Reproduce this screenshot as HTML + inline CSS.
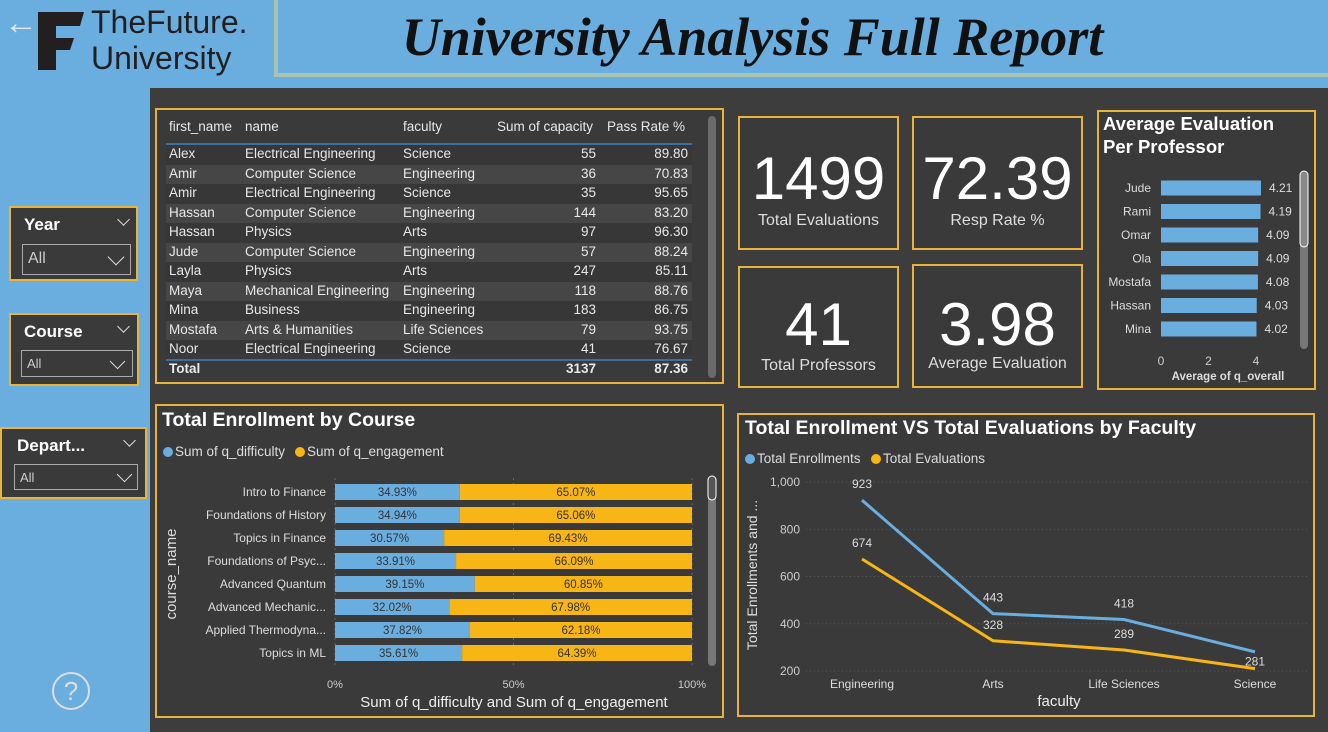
<!DOCTYPE html>
<html><head><meta charset="utf-8">
<style>
*{box-sizing:border-box;margin:0;padding:0}
body{width:1328px;height:732px;overflow:hidden;background:#6aaee0;font-family:"Liberation Sans",sans-serif;position:relative;color:#fff}
.abs{position:absolute}
.panel{position:absolute;background:#3a3a3a;border:2px solid #e9b23a}
.tbl div{position:absolute;font-size:13.5px;color:#e8e8e8;white-space:nowrap}
.kpi .v{position:absolute;width:100%;text-align:center;font-size:60px;color:#fff}
.kpi .l{position:absolute;width:100%;text-align:center;font-size:16px;color:#ddd}
.chev{position:absolute;width:9px;height:9px;border-right:1.5px solid #ddd;border-bottom:1.5px solid #ddd;transform:rotate(45deg)}
svg text{font-family:"Liberation Sans",sans-serif}
</style></head><body>
<div class="abs" style="left:4px;top:6px;font-size:34px;color:#e5e5e5;line-height:34px">←</div>
<svg class="abs" style="left:36px;top:8px" width="50" height="64"><path d="M2 4 L48 4 L44 18 L20 18 L20 30 L38 30 L34 42 L20 42 L20 62 L2 62 Z" fill="#231f20"/></svg>
<div class="abs" style="left:91px;top:4px;font-size:32px;line-height:36px;color:#231f20">TheFuture.<br>University</div>
<div class="abs" style="left:274px;top:0;width:1054px;height:77px;background:#6aaee0;border-bottom:4px solid #a8c3b0;border-left:4px solid #a8c3b0"></div>
<div class="abs" style="left:300px;top:6px;width:905px;text-align:center;font-family:'Liberation Serif',serif;font-style:italic;font-weight:bold;font-size:54px;color:#111">University Analysis Full Report</div>
<div class="abs" style="left:150px;top:88px;width:1178px;height:644px;background:#3d3d3d"></div>

<!-- slicers -->
<div class="panel" style="left:9px;top:206px;width:129px;height:75px">
 <div class="abs" style="left:13px;top:7px;font-size:17px;font-weight:bold">Year</div>
 <div class="chev" style="left:108px;top:7px"></div>
 <div class="abs" style="left:11px;top:36px;width:109px;height:31px;border:1.5px solid #aaa"><span class="abs" style="left:5px;top:5px;font-size:16px;color:#ccc">All</span><div class="chev" style="left:87px;top:6px;width:12px;height:12px"></div></div>
</div>
<div class="panel" style="left:9px;top:313px;width:130px;height:73px">
 <div class="abs" style="left:13px;top:7px;font-size:17px;font-weight:bold">Course</div>
 <div class="chev" style="left:108px;top:7px"></div>
 <div class="abs" style="left:10px;top:35px;width:112px;height:27px;border:1.5px solid #aaa"><span class="abs" style="left:5px;top:5px;font-size:13px;color:#ccc">All</span><div class="chev" style="left:90px;top:5px;width:11px;height:11px"></div></div>
</div>
<div class="panel" style="left:0px;top:427px;width:147px;height:72px">
 <div class="abs" style="left:15px;top:7px;font-size:17px;font-weight:bold">Depart...</div>
 <div class="chev" style="left:123px;top:7px"></div>
 <div class="abs" style="left:12px;top:35px;width:124px;height:26px;border:1.5px solid #aaa"><span class="abs" style="left:5px;top:5px;font-size:13px;color:#ccc">All</span><div class="chev" style="left:104px;top:4px;width:11px;height:11px"></div></div>
</div>
<div class="abs" style="left:52px;top:672px;width:38px;height:38px;border:2px solid #ddd;border-radius:50%;text-align:center;font-size:26px;line-height:34px;color:#ddd">?</div>

<!-- table -->
<div class="panel tbl" style="left:155px;top:108px;width:569px;height:276px" id="tbl">
 <div style="left:12px;top:9px">first_name</div><div style="left:88px;top:9px">name</div><div style="left:246px;top:9px">faculty</div>
 <div style="left:340px;top:9px">Sum of capacity</div><div style="left:450px;top:9px">Pass Rate %</div>
 <div style="left:9px;top:33px;width:526px;height:2px;background:#3c6e9e"></div>
 <div style="left:9px;top:249px;width:526px;height:2px;background:#3c6e9e"></div>
 <div style="left:12px;top:251px;font-weight:bold">Total</div>
 <div style="left:339px;top:251px;width:100px;text-align:right;font-weight:bold">3137</div>
 <div style="left:431px;top:251px;width:100px;text-align:right;font-weight:bold">87.36</div>
 <div style="left:551px;top:6px;width:8px;height:262px;background:#6a6a6a;border-radius:4px"></div>
</div>

<!-- KPIs -->
<div class="panel kpi" style="left:738px;top:116px;width:161px;height:134px"><div class="v" style="top:26px">1499</div><div class="l" style="top:94px">Total Evaluations</div></div>
<div class="panel kpi" style="left:912px;top:116px;width:171px;height:134px"><div class="v" style="top:26px">72.39</div><div class="l" style="top:94px">Resp Rate %</div></div>
<div class="panel kpi" style="left:738px;top:266px;width:161px;height:122px"><div class="v" style="top:22px">41</div><div class="l" style="top:89px">Total Professors</div></div>
<div class="panel kpi" style="left:912px;top:264px;width:171px;height:124px"><div class="v" style="top:24px">3.98</div><div class="l" style="top:89px">Average Evaluation</div></div>

<!-- professor chart -->
<div class="panel" style="left:1097px;top:110px;width:219px;height:280px"></div>
<svg class="abs" id="prof" style="left:0;top:0" width="1328" height="732"></svg>

<!-- bar chart -->
<div class="panel" style="left:155px;top:404px;width:569px;height:314px"></div>
<svg class="abs" id="bars" style="left:0;top:0" width="1328" height="732"></svg>

<!-- line chart -->
<div class="panel" style="left:737px;top:413px;width:578px;height:304px"></div>
<svg class="abs" id="line" style="left:0;top:0" width="1328" height="732"></svg>

<script>
// table data
const tFirst=["Alex","Amir","Amir","Hassan","Hassan","Jude","Layla","Maya","Mina","Mostafa","Noor"];
const tName=["Electrical Engineering","Computer Science","Electrical Engineering","Computer Science","Physics","Computer Science","Physics","Mechanical Engineering","Business","Arts & Humanities","Electrical Engineering"];
const tFac=["Science","Engineering","Science","Engineering","Arts","Engineering","Arts","Engineering","Engineering","Life Sciences","Science"];
const tCap=[55,36,35,144,97,57,247,118,183,79,41];
const tPass=["89.80","70.83","95.65","83.20","96.30","88.24","85.11","88.76","86.75","93.75","76.67"];
// professor chart
const profNames=["Jude","Rami","Omar","Ola","Mostafa","Hassan","Mina"];
const profVals=[4.21,4.19,4.09,4.09,4.08,4.03,4.02];
const profTicks=[0,2,4];
// course chart
const courses=["Intro to Finance","Foundations of History","Topics in Finance","Foundations of Psyc...","Advanced Quantum","Advanced Mechanic...","Applied Thermodyna...","Topics in ML"];
const diffPct=[34.93,34.94,30.57,33.91,39.15,32.02,37.82,35.61];
const engPct=[65.07,65.06,69.43,66.09,60.85,67.98,62.18,64.39];
const pctTicks=[0,50,100];
// line chart
const faculties=["Engineering","Arts","Life Sciences","Science"];
const enrollments=[923,443,418,281];
const evaluations=[674,328,289,210];
const yTicks=[200,400,600,800,1000];

const NS="http://www.w3.org/2000/svg";
function mk(svg,tag,attrs,txt){const e=document.createElementNS(NS,tag);for(const k in attrs)e.setAttribute(k,attrs[k]);if(txt!==undefined)e.textContent=txt;svg.appendChild(e);return e;}

// table rows
const tbl=document.getElementById('tbl');
tFirst.forEach((f,i)=>{
  const y=35+i*19.5;
  const bg=document.createElement('div');
  
  
  bg.style.cssText=`left:9px;top:${y}px;width:526px;height:${i==10?14:19.5}px;background:${i%2?'#464646':'#373737'}`;
  tbl.appendChild(bg);
  const cells=[[12,f],[88,tName[i]],[246,tFac[i]]];
  cells.forEach(c=>{const d=document.createElement('div');d.style.cssText=`left:${c[0]}px;top:${y+1}px`;d.textContent=c[1];tbl.appendChild(d);});
  const a=document.createElement('div');a.style.cssText=`left:339px;top:${y+1}px;width:100px;text-align:right`;a.textContent=tCap[i];tbl.appendChild(a);
  const b=document.createElement('div');b.style.cssText=`left:431px;top:${y+1}px;width:100px;text-align:right`;b.textContent=tPass[i];tbl.appendChild(b);
});

// professor chart
(function(){
  const s=document.getElementById('prof');
  mk(s,'text',{x:1103,y:130,fill:'#fff','font-size':18.5,'font-weight':'bold'},'Average Evaluation');
  mk(s,'text',{x:1103,y:153,fill:'#fff','font-size':18.5,'font-weight':'bold'},'Per Professor');
  const x=v=>1161+v*(1256-1161)/4, y0=188, step=23.5;
  profTicks.forEach(t=>mk(s,'text',{x:x(t),y:365,fill:'#ccc','font-size':12,'text-anchor':'middle'},t));
  mk(s,'text',{x:1228,y:380,fill:'#ddd','font-size':11.5,'font-weight':'bold','text-anchor':'middle'},'Average of q_overall');
  profNames.forEach((n,i)=>{
    const cy=y0+i*step;
    const r=mk(s,'rect',{x:x(0),y:cy-7.5,width:x(profVals[i])-x(0),height:15,fill:'#6aaee0'});
    
    
    mk(s,'text',{x:1151,y:cy+4,fill:'#ddd','font-size':12,'text-anchor':'end'},n);
    mk(s,'text',{x:x(profVals[i])+8,y:cy+4,fill:'#ddd','font-size':12},profVals[i].toFixed(2));
  });
  const sb=mk(s,'rect',{x:1300,y:171,width:8,height:178,rx:4,fill:'#777'});
  
  
  mk(s,'rect',{x:1300,y:171,width:8,height:76,rx:4,fill:'#888',stroke:'#fff','stroke-width':1});
})();

// stacked bar chart
(function(){
  const s=document.getElementById('bars');
  mk(s,'text',{x:162,y:426,fill:'#fff','font-size':19.5,'font-weight':'bold'},'Total Enrollment by Course');
  mk(s,'circle',{cx:168,cy:452,r:5,fill:'#6aaee0'});
  mk(s,'text',{x:175,y:456,fill:'#ddd','font-size':13.5},'Sum of q_difficulty');
  mk(s,'circle',{cx:300,cy:452,r:5,fill:'#f8b516'});
  mk(s,'text',{x:307,y:456,fill:'#ddd','font-size':13.5},'Sum of q_engagement');
  const x=p=>335+p*(692-335)/100, y0=492, step=23;
  pctTicks.forEach(t=>{
    mk(s,'line',{x1:x(t),y1:478,x2:x(t),y2:665,stroke:'#666','stroke-dasharray':'2 3'});
    mk(s,'text',{x:x(t),y:688,fill:'#ccc','font-size':11,'text-anchor':'middle'},t+'%');
  });
  courses.forEach((c,i)=>{
    const cy=y0+i*step;
    const a=mk(s,'rect',{x:x(0),y:cy-8,width:x(diffPct[i])-x(0),height:16,fill:'#6aaee0'});
    
    
    const b=mk(s,'rect',{x:x(diffPct[i]),y:cy-8,width:x(diffPct[i]+engPct[i])-x(diffPct[i]),height:16,fill:'#f8b516'});
    
    
    mk(s,'text',{x:(x(0)+x(diffPct[i]))/2,y:cy+4,fill:'#333','font-size':11.5,'text-anchor':'middle'},diffPct[i].toFixed(2)+'%');
    mk(s,'text',{x:(x(diffPct[i])+x(100))/2,y:cy+4,fill:'#333','font-size':11.5,'text-anchor':'middle'},engPct[i].toFixed(2)+'%');
    mk(s,'text',{x:326,y:cy+4,fill:'#ddd','font-size':12,'text-anchor':'end'},c);
  });
  mk(s,'text',{x:176,y:574,fill:'#ddd','font-size':15,'text-anchor':'middle',transform:'rotate(-90 176 574)'},'course_name');
  mk(s,'text',{x:514,y:707,fill:'#eee','font-size':15,'text-anchor':'middle'},'Sum of q_difficulty and Sum of q_engagement');
  const sb=mk(s,'rect',{x:708,y:476,width:8,height:190,rx:4,fill:'#777'});
  
  
  mk(s,'rect',{x:708,y:476,width:8,height:24,rx:4,fill:'#555',stroke:'#fff','stroke-width':1});
})();

// line chart
(function(){
  const s=document.getElementById('line');
  mk(s,'text',{x:745,y:434,fill:'#fff','font-size':19.5,'font-weight':'bold'},'Total Enrollment VS Total Evaluations by Faculty');
  mk(s,'circle',{cx:750,cy:459,r:5,fill:'#6aaee0'});
  mk(s,'text',{x:757,y:463,fill:'#ddd','font-size':13.5},'Total Enrollments');
  mk(s,'circle',{cx:876,cy:459,r:5,fill:'#f8b516'});
  mk(s,'text',{x:883,y:463,fill:'#ddd','font-size':13.5},'Total Evaluations');
  const y=v=>671-(v-200)*(671-482)/800;
  const xs=i=>862+i*(1255-862)/3;
  yTicks.forEach(t=>{
    mk(s,'line',{x1:806,y1:y(t),x2:1310,y2:y(t),stroke:'#5a5a5a','stroke-dasharray':'1 3'});
    mk(s,'text',{x:800,y:y(t)+4,fill:'#ccc','font-size':12,'text-anchor':'end'},t.toLocaleString('en-US'));
  });
  faculties.forEach((f,i)=>mk(s,'text',{x:xs(i),y:688,fill:'#ddd','font-size':12,'text-anchor':'middle'},f));
  mk(s,'text',{x:1059,y:706,fill:'#eee','font-size':15,'text-anchor':'middle'},'faculty');
  mk(s,'text',{x:757,y:575,fill:'#ddd','font-size':14,'text-anchor':'middle',transform:'rotate(-90 757 575)'},'Total Enrollments and ...');
  [[enrollments,'#6aaee0','enrollments-line'],[evaluations,'#f8b516','evaluations-line']].forEach(([d,c,n])=>{
    const p=mk(s,'polyline',{points:d.map((v,i)=>xs(i)+','+y(v)).join(' '),fill:'none',stroke:c,'stroke-width':3});
    
    
  });
  enrollments.forEach((v,i)=>{ if(i<3) mk(s,'text',{x:xs(i),y:y(v)-12,fill:'#ddd','font-size':12,'text-anchor':'middle'},v); });
  mk(s,'text',{x:xs(3),y:y(evaluations[3])-3,fill:'#ddd','font-size':12,'text-anchor':'middle'},enrollments[3]);
  evaluations.forEach((v,i)=>{ if(i<3) mk(s,'text',{x:xs(i),y:y(v)-12,fill:'#ddd','font-size':12,'text-anchor':'middle'},v); });
})();
</script>
</body></html>
